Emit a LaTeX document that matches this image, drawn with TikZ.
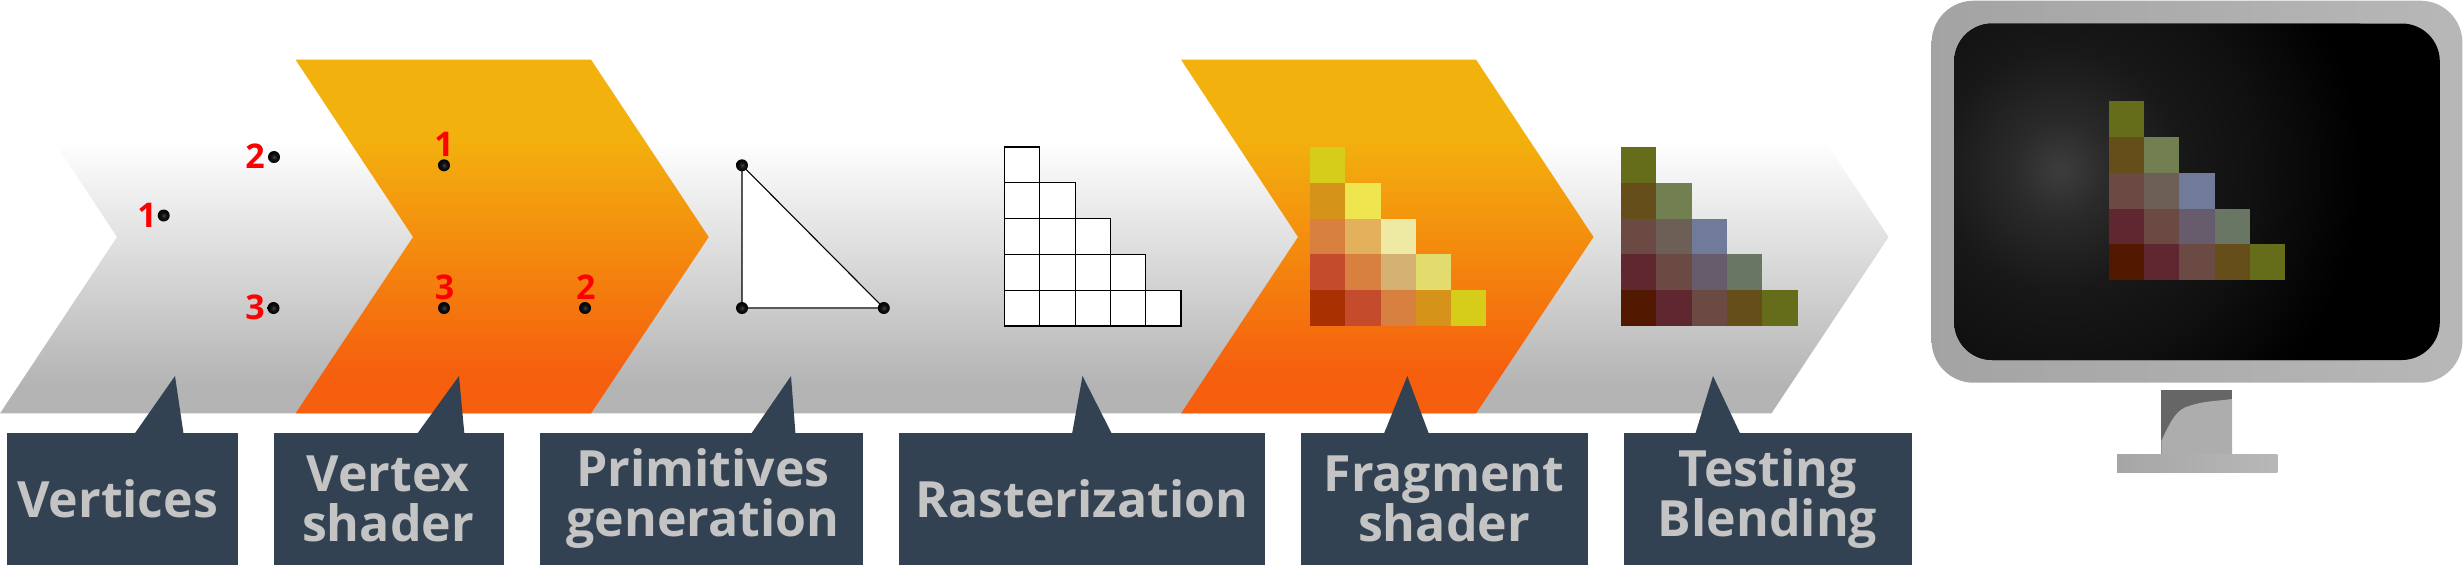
\documentclass[tikz,border=0pt]{standalone}
\usepackage{fontspec}
\setmainfont{Open Sans}
\usetikzlibrary{shadings}
\pgfdeclareverticalshading{grayflow}{100bp}{rgb(0bp)=(0.706,0.706,0.706); rgb(29bp)=(0.706,0.706,0.706); rgb(63.6bp)=(1,1,1); rgb(100bp)=(1,1,1)}
\pgfdeclareverticalshading{orangeflow}{100bp}{rgb(0bp)=(0.961,0.373,0.055); rgb(30.8bp)=(0.961,0.373,0.055); rgb(64bp)=(0.953,0.694,0.055); rgb(100bp)=(0.953,0.694,0.055)}
\pgfdeclareradialshading{screenglow}{\pgfpointorigin}{rgb(0bp)=(0.24,0.24,0.24); rgb(4bp)=(0.165,0.165,0.165); rgb(10bp)=(0.095,0.095,0.095); rgb(17bp)=(0.06,0.06,0.06); rgb(25bp)=(0,0,0); rgb(50bp)=(0,0,0)}
\pgfdeclareradialshading{dotglow}{\pgfpointorigin}{rgb(0bp)=(0.28,0.28,0.28); rgb(10bp)=(0.08,0.08,0.08); rgb(25bp)=(0,0,0); rgb(50bp)=(0,0,0)}
\definecolor{slatebox}{HTML}{334252}
\definecolor{labelgray}{HTML}{C4C4C4}
\definecolor{fa}{HTML}{D6CC1A}\definecolor{fb}{HTML}{D6931A}\definecolor{fc}{HTML}{EFE64F}
\definecolor{fd}{HTML}{D88040}\definecolor{fe}{HTML}{E3B15C}\definecolor{ff}{HTML}{EEE9A3}
\definecolor{fg}{HTML}{C44C2C}\definecolor{fh}{HTML}{D6B272}\definecolor{fi}{HTML}{E2DC6E}
\definecolor{fj}{HTML}{A93000}
\definecolor{ta}{HTML}{656C1A}\definecolor{tb}{HTML}{654E1A}\definecolor{tc}{HTML}{727F50}
\definecolor{td}{HTML}{6A4A42}\definecolor{te}{HTML}{6C5F56}\definecolor{tf}{HTML}{6F7B98}
\definecolor{tg}{HTML}{5F2830}\definecolor{th}{HTML}{675C6C}\definecolor{ti}{HTML}{6A7664}
\definecolor{tj}{HTML}{521800}
\tikzset{
  stagebox/.style={fill=slatebox,draw=none,inner sep=0pt,minimum height=132pt},
  stagetail/.style={fill=slatebox,draw=none},
  stagetext/.style={text=labelgray,font=\fontsize{50}{50}\selectfont\bfseries,align=center,anchor=south,inner sep=0pt,text depth=0pt},
  vertexdot/.style={circle,inner sep=0pt,minimum size=12pt,shading=dotglow},
  vertexnum/.style={text=red,font=\fontsize{34}{34}\selectfont\bfseries,inner sep=0pt},
  cellline/.style={draw=black,line width=1.2pt,fill=white}
}
\def\pixellist{0/0/a,0/1/b,1/1/c,0/2/d,1/2/e,2/2/f,0/3/g,1/3/d,2/3/h,3/3/i,0/4/j,1/4/g,2/4/d,3/4/b,4/4/a}
\newcommand{\pixelrow}[5]{% ox oy dx dy colprefix
  \foreach \cc/\rr/\kk in \pixellist {
    \fill[fill=#5\kk] (#1+\cc*#3,#2+\rr*#4) rectangle (#1+\cc*#3+#3,#2+\rr*#4+#4);
  }}
\begin{document}
\begin{tikzpicture}[x=1pt,y=-1pt]
\useasboundingbox (0,0) rectangle (2464,566);
% gray flow
\shade[shading=grayflow] (0,60) -- (1771.4,60) -- (1888.6,237) -- (1771.4,413.4) -- (0,413.4) -- (117,237) -- cycle;
% orange flows
\shade[shading=orangeflow] (295.5,59.6) -- (591,59.6) -- (708.7,237) -- (591,413.4) -- (295.5,413.4) -- (413,237) -- cycle;
\shade[shading=orangeflow] (1181,59.6) -- (1476,59.6) -- (1593.5,237) -- (1476,413.4) -- (1181,413.4) -- (1298,237) -- cycle;
% vertices
\node[vertexdot] (a1) at (163.7,215.5) {};
\node[vertexdot] (a2) at (274,157) {};
\node[vertexdot] (a3) at (273.5,308) {};
\node[vertexnum] (na1) at (147,215) {1};
\node[vertexnum] (na2) at (255,156) {2};
\node[vertexnum] (na3) at (255,307.6) {3};
% vertex shader
\node[vertexdot] (b1) at (444,165.3) {};
\node[vertexdot] (b3) at (444,308) {};
\node[vertexdot] (b2) at (585,308) {};
\node[vertexnum] (nb1) at (444,144.4) {1};
\node[vertexnum] (nb3) at (444.5,287) {3};
\node[vertexnum] (nb2) at (585.8,287) {2};
% primitive
\coordinate (p1) at (742,165.3);
\coordinate (p2) at (742,308);
\coordinate (p3) at (883.8,308);
\fill[white] (p1) -- (p2) -- (p3) -- cycle;
\draw[black,line width=1.1pt] (p2) -- (p1) -- (p3);
\draw[black!65,line width=2pt] (p2) -- (p3);
\node[vertexdot] (c1) at (p1) {};
\node[vertexdot] (c2) at (p2) {};
\node[vertexdot] (c3) at (p3) {};
% raster grid
\foreach \cc/\rr in {0/0,0/1,1/1,0/2,1/2,2/2,0/3,1/3,2/3,3/3,0/4,1/4,2/4,3/4,4/4}{
  \path[cellline] (1004.6+\cc*35.26,147+\rr*35.8) rectangle ++(35.26,35.8);
}
% fragment pixels
\pixelrow{1310}{147}{35.26}{35.8}{f}
% blended pixels
\pixelrow{1621.2}{147}{35.26}{35.8}{t}
% monitor
\shade[left color=black!36,right color=black!28,rounded corners=42pt] (1931.6,0.7) rectangle (2462.4,382.7);
\fill[black,rounded corners=38pt] (1954.2,23.5) rectangle (2439.8,360);
\begin{scope}
\clip[rounded corners=38pt] (1954.2,23.5) rectangle (2439.8,360);
\shade[shading=screenglow] (1760.4,-130) rectangle (2360.4,470);
\end{scope}
\pixelrow{2108.7}{101.4}{35.3}{35.73}{t}
% stand
\fill[black!60] (2161.3,390) rectangle (2232.2,454);
\fill[black!32] (2161.3,441) .. controls (2171,420) and (2177,409) .. (2189,406) .. controls (2203,401) and (2218,401) .. (2232.2,399) -- (2232.2,454) -- (2161.3,454) -- cycle;
\shade[left color=black!35,right color=black!28] (2117,454) rectangle (2277.4,472);
% callout boxes
\fill[stagetail] (134.4,434) -- (175,376) -- (183.6,434) -- cycle;
\fill[stagetail] (417,434) -- (459,376) -- (464.4,434) -- cycle;
\fill[stagetail] (751,434) -- (791,376) -- (795.5,434) -- cycle;
\fill[stagetail] (1072,434) -- (1082.5,376) -- (1112,434) -- cycle;
\fill[stagetail] (1383.8,434) -- (1407.3,376) -- (1429,434) -- cycle;
\fill[stagetail] (1695.2,434) -- (1713,376) -- (1740.4,434) -- cycle;
\node[stagebox,minimum width=230.5pt] (s1) at (122.25,499) {};
\node[stagebox,minimum width=230.2pt] (s2) at (388.6,499) {};
\node[stagebox,minimum width=323.3pt] (s3) at (701.35,499) {};
\node[stagebox,minimum width=365.6pt] (s4) at (1081.8,499) {};
\node[stagebox,minimum width=287.7pt] (s5) at (1444.45,499) {};
\node[stagebox,minimum width=288.3pt] (s6) at (1768,499) {};
\node[stagetext] (t1) at (117.7,518) {Vertices};
\node[stagetext] (t2) at (388,541.5) {Vertex\\shader};
\node[stagetext] (t3) at (703,537) {Primitives\\generation};
\node[stagetext] (t4) at (1081.8,518) {Rasterization};
\node[stagetext] (t5) at (1444,541.5) {Fragment\\shader};
\node[stagetext] (t6) at (1767.5,537) {Testing\\Blending};
\end{tikzpicture}
\end{document}
